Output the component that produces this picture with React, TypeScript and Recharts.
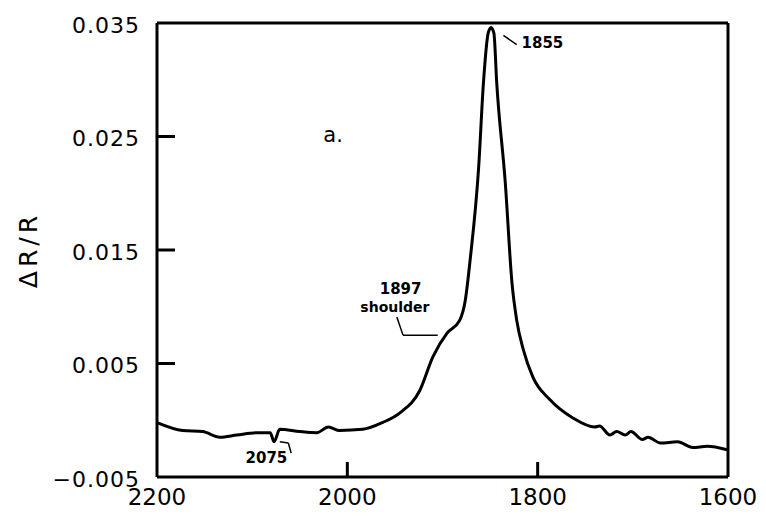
import { LineChart, Line, XAxis, YAxis, ReferenceLine, ReferenceDot } from "recharts";

// wavenumber (cm-1), read right-to-left off the plot
const wavenumbers = [
  2200, 2173, 2152, 2134, 2116, 2095, 2081, 2077, 2071, 2050, 2032, 2020, 2008, 1984, 1963, 1944, 1924,
  1910, 1895, 1882, 1876, 1871, 1862, 1857, 1852, 1849, 1846, 1843, 1834, 1827, 1822, 1815, 1805, 1787,
  1763, 1740, 1735, 1724, 1717, 1708, 1702, 1690, 1684, 1671, 1653, 1637, 1622, 1601,
];
const deltaR = [
  -0.0002, -0.0009, -0.001, -0.0015, -0.0013, -0.0011, -0.0011, -0.0019, -0.0008, -0.001, -0.0011, -0.0006,
  -0.0009, -0.0008, -0.0002, 0.0007, 0.0026, 0.0056, 0.0077, 0.0088, 0.0106, 0.0141, 0.0223, 0.0297, 0.0341,
  0.0346, 0.0341, 0.0297, 0.0209, 0.0121, 0.0088, 0.0062, 0.0038, 0.0018, 0.0002, -0.0006, -0.0005, -0.0013,
  -0.001, -0.0013, -0.001, -0.0017, -0.0015, -0.002, -0.0019, -0.0024, -0.0023, -0.0026,
];
const xTicks = [2200, 2000, 1800, 1600];
const yTicks = [-0.005, 0.005, 0.015, 0.025, 0.035];

const data = wavenumbers.map((w, i) => ({ w, r: deltaR[i] }));

const FONT = "DejaVu Sans";

const YTick = (props: any) => {
  const { x, y, payload } = props;
  const v = payload.value;
  const inner = v > -0.005 && v < 0.035;
  const txt = (v < 0 ? "\u2212" : "") + Math.abs(v).toFixed(3);
  return (
    <g>
      {inner && <line x1={x} x2={x + 18} y1={y} y2={y} stroke="#000" strokeWidth={3} />}
      <text x={x - 17} y={y + 2} dy="0.36em" textAnchor="end" fontFamily={FONT} fontSize={22} letterSpacing={1} fill="#000">
        {txt}
      </text>
    </g>
  );
};

const XTick = (props: any) => {
  const { x, y, payload } = props;
  const v = payload.value;
  const inner = v > 1600 && v < 2200;
  return (
    <g>
      {inner && <line x1={x} x2={x} y1={y} y2={y - 15} stroke="#000" strokeWidth={3} />}
      <text x={x} y={y + 20} dy="0.36em" textAnchor="middle" fontFamily={FONT} fontSize={23} fill="#000">
        {v}
      </text>
    </g>
  );
};

const note = (value: string, size = 15) => ({
  value,
  position: "center" as const,
  fill: "#000",
  fontSize: size,
  fontWeight: "bold",
  fontFamily: FONT,
});

export default function App() {
  return (
    <div style={{ position: "absolute", left: 0, top: 0, background: "#fff" }}>
      <LineChart width={766} height={518} data={data} margin={{ top: 23, right: 38, left: 0, bottom: 0 }}>
        <XAxis
          dataKey="w"
          type="number"
          domain={[1600, 2200]}
          ticks={xTicks}
          reversed
          height={41}
          tickSize={0}
          tickMargin={0}
          tickLine={false}
          axisLine={{ stroke: "#000", strokeWidth: 3 }}
          tick={<XTick />}
        />
        <YAxis
          type="number"
          domain={[-0.005, 0.035]}
          ticks={yTicks}
          width={157}
          tickSize={0}
          tickMargin={0}
          tickLine={false}
          axisLine={{ stroke: "#000", strokeWidth: 3 }}
          tick={<YTick />}
          label={{
            content: ({ viewBox }: any) => {
              const cx = viewBox.x + 28;
              const cy = viewBox.y + viewBox.height / 2;
              return (
                <text
                  x={cx}
                  y={cy}
                  transform={`rotate(-90 ${cx} ${cy})`}
                  textAnchor="middle"
                  dominantBaseline="central"
                  fontFamily={FONT}
                  fontSize={25}
                  letterSpacing={4}
                  fill="#000"
                >
                  ΔR/R
                </text>
              );
            },
          }}
        />
        <ReferenceLine y={0.035} stroke="#000" strokeWidth={3} />
        <ReferenceLine x={1600} stroke="#000" strokeWidth={3} />

        {/* peak leader */}
        <ReferenceLine segment={[{ x: 1836, y: 0.0339 }, { x: 1822, y: 0.0331 }]} stroke="#000" strokeWidth={1.5} />
        {/* shoulder leader */}
        <ReferenceLine segment={[{ x: 1948, y: 0.0091 }, { x: 1941.5, y: 0.0075 }]} stroke="#000" strokeWidth={1.5} />
        <ReferenceLine segment={[{ x: 1941.5, y: 0.0075 }, { x: 1905, y: 0.0075 }]} stroke="#000" strokeWidth={1.5} />
        {/* 2075 bracket */}
        <ReferenceLine segment={[{ x: 2071, y: -0.0019 }, { x: 2062, y: -0.002 }]} stroke="#000" strokeWidth={1.5} />
        <ReferenceLine segment={[{ x: 2062, y: -0.002 }, { x: 2059, y: -0.0029 }]} stroke="#000" strokeWidth={1.5} />

        <Line type="monotone" dataKey="r" stroke="#000" strokeWidth={3} dot={false} isAnimationActive={false} />

        <ReferenceDot x={1795} y={0.0333} r={0} stroke="none" label={note("1855")} />
        <ReferenceDot x={1944} y={0.0116} r={0} stroke="none" label={note("1897")} />
        <ReferenceDot x={1950} y={0.01} r={0} stroke="none" label={note("shoulder", 14)} />
        <ReferenceDot x={2085} y={-0.0033} r={0} stroke="none" label={note("2075")} />
        <ReferenceDot
          x={2015}
          y={0.0252}
          r={0}
          stroke="none"
          label={{ value: "a.", position: "center", fill: "#000", fontSize: 21, fontFamily: FONT }}
        />
      </LineChart>
    </div>
  );
}
